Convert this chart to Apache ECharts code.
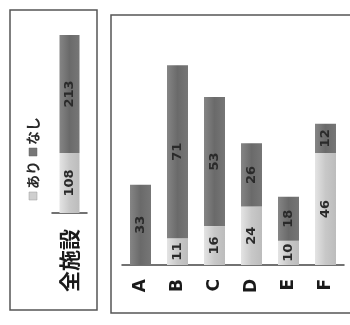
<!DOCTYPE html>
<html><head><meta charset="utf-8">
<script src="https://cdn.jsdelivr.net/npm/echarts@6/dist/echarts.min.js"></script>
<style>html,body{margin:0;padding:0;background:#fff}#c{width:350px;height:325px}</style>
</head><body><div id="c"></div>
<script>
const totalCategories = ['全施設'];
const totalAri = [108];
const totalNashi = [213];
const categories = ['A','B','C','D','E','F'];
const ari = [0, 11, 16, 24, 10, 46];
const nashi = [33, 71, 53, 26, 18, 12];
const legendNames = ['あり','なし'];

const darkFill = new echarts.graphic.LinearGradient(0,0,1,0,[{offset:0,color:'#858585'},{offset:0.5,color:'#6a6a6a'},{offset:1,color:'#767676'}]);
const lightFill = new echarts.graphic.LinearGradient(0,0,1,0,[{offset:0,color:'#e4e4e4'},{offset:0.5,color:'#c8c8c8'},{offset:1,color:'#bcbcbc'}]);
const lbl = {show:true, position:'inside', rotate:90, color:'#2a2a2a', fontWeight:'bold', fontSize:13, fontFamily:'DejaVu Sans',
  formatter: p => p.value ? p.value : ''};

const chart = echarts.init(document.getElementById('c'));
chart.setOption({
  animation:false,
  grid:[
    {left:52, width:35, top:35, height:178},
    {left:122, width:222, top:58, height:207}
  ],
  xAxis:[
    {gridIndex:0, type:'category', data:totalCategories, axisTick:{show:false},
     axisLine:{lineStyle:{color:'#444', width:1.5}},
     axisLabel:{rotate:90, margin:16, fontSize:21, fontWeight:'bold', color:'#1a1a1a', fontFamily:'Noto Sans CJK JP'}},
    {gridIndex:1, type:'category', data:categories, axisTick:{show:false},
     axisLine:{lineStyle:{color:'#444', width:1.5}},
     axisLabel:{rotate:90, margin:14, fontSize:17, fontWeight:'bold', color:'#1a1a1a', fontFamily:'DejaVu Sans'}}
  ],
  yAxis:[
    {gridIndex:0, type:'value', min:0, max:321, show:false},
    {gridIndex:1, type:'value', min:0, max:85, show:false}
  ],
  graphic:[
    {type:'rect', shape:{x:10, y:10, width:87, height:300}, style:{fill:'none', stroke:'#555', lineWidth:1.5}},
    {type:'rect', shape:{x:111, y:15, width:245, height:298}, style:{fill:'none', stroke:'#555', lineWidth:1.5}},
    {type:'group', x:33, y:200, rotation:Math.PI/2, children:[
      {type:'rect', shape:{x:0, y:-4, width:8, height:8}, style:{fill:'#cfcfcf', stroke:'#999', lineWidth:0.5}},
      {type:'text', x:11, y:0, style:{text:legendNames[0], fontSize:14, fill:'#2a2a2a', fontFamily:'Noto Sans CJK JP', verticalAlign:'middle', fontWeight:'bold'}},
      {type:'rect', shape:{x:44, y:-4, width:8, height:8}, style:{fill:'#777', stroke:'#666', lineWidth:0.5}},
      {type:'text', x:55, y:0, style:{text:legendNames[1], fontSize:14, fill:'#2a2a2a', fontFamily:'Noto Sans CJK JP', verticalAlign:'middle', fontWeight:'bold'}}
    ]}
  ],
  series:[
    {name:legendNames[0], type:'bar', xAxisIndex:0, yAxisIndex:0, stack:'t', data:totalAri, barWidth:20, itemStyle:{color:lightFill}, label:lbl},
    {name:legendNames[1], type:'bar', xAxisIndex:0, yAxisIndex:0, stack:'t', data:totalNashi, barWidth:20, itemStyle:{color:darkFill}, label:lbl},
    {name:legendNames[0], type:'bar', xAxisIndex:1, yAxisIndex:1, stack:'s', data:ari, barWidth:21, itemStyle:{color:lightFill}, label:lbl},
    {name:legendNames[1], type:'bar', xAxisIndex:1, yAxisIndex:1, stack:'s', data:nashi, barWidth:21, itemStyle:{color:darkFill}, label:lbl}
  ]
});
</script></body></html>
